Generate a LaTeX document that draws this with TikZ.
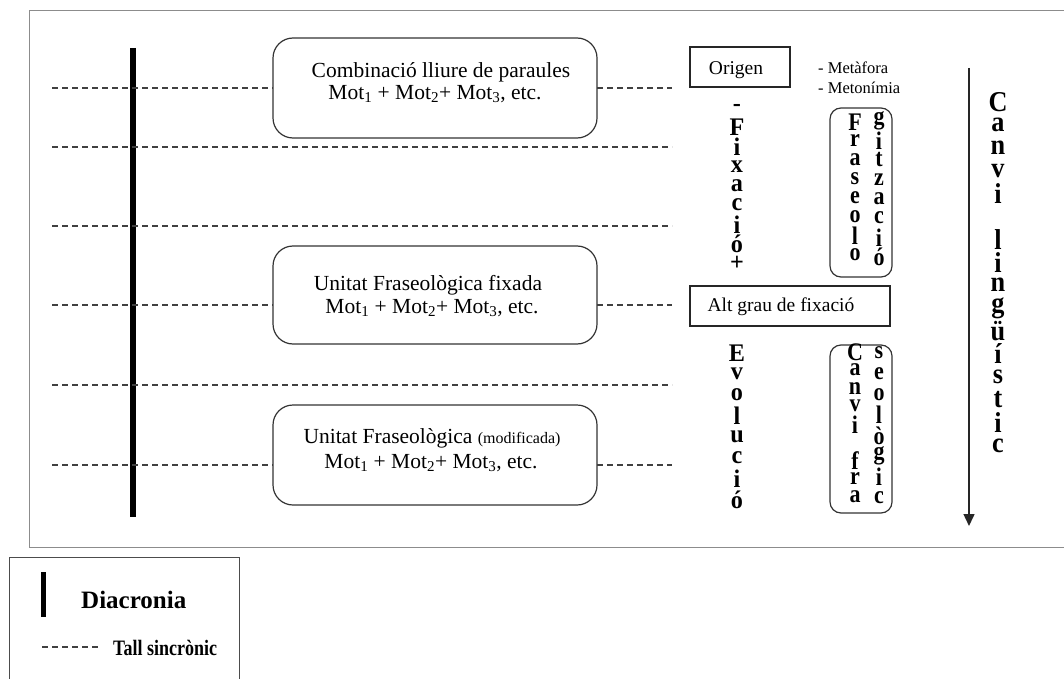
\documentclass[tikz,border=0pt]{standalone}
\usepackage{graphicx}
\usepackage{fontspec}
\setmainfont{Liberation Serif}
\usetikzlibrary{arrows.meta}
\newcommand\vertcol[6]{%
  \foreach \ch [count=\i] in {#6} {%
    \pgfmathsetmacro\yy{#3+(\i-1)*#4}%
    \node[vletter] (#1\i) at (#2,\yy) {\scalebox{#5}[1.15]{\ch}};%
  }}
\begin{document}
\begin{tikzpicture}[x=1pt,y=-1pt,
  dashline/.style={draw=black!75, line width=1.3pt, dash pattern=on 6pt off 4pt},
  roundbox/.style={draw=black!80, line width=1.2pt, rounded corners=20pt, rectangle, inner sep=0pt},
  narrowbox/.style={draw=black!80, line width=1.2pt, rounded corners=11pt, rectangle, inner sep=0pt, minimum width=62pt},
  plainbox/.style={draw=black!85, line width=1.2pt, rectangle, inner sep=0pt},
  boxtext/.style={font=\fontsize{21.5}{25}\selectfont, inner sep=0pt},
  sidetext/.style={font=\fontsize{19.5}{22}\selectfont, inner sep=0pt},
  smalltext/.style={font=\fontsize{16.5}{19}\selectfont, inner sep=0pt, anchor=west},
  vletter/.style={font=\bfseries\fontsize{22}{22}\selectfont, inner sep=0pt},
  bigletter/.style={font=\bfseries\fontsize{25}{25}\selectfont, inner sep=0pt},
  legtext/.style={font=\bfseries\fontsize{20}{20}\selectfont, inner sep=0pt, anchor=west}
]
\useasboundingbox (0,0) rectangle (1064,679);

% outer frame
\draw[draw=black!45, line width=1pt] (1070,11) -- (29,11) -- (29,547) -- (1070,547);

% diachrony bar
\coordinate (diaTop) at (133,48);
\coordinate (diaBot) at (133,517);
\draw[line width=6.5pt] (diaTop) -- (diaBot);

% boxes
\node[roundbox, minimum width=324pt, minimum height=100pt] (b1) at (435,88) {};
\node[roundbox, minimum width=324pt, minimum height=98pt] (b2) at (435,295) {};
\node[roundbox, minimum width=324pt, minimum height=100pt] (b3) at (435,455) {};

\node[boxtext] (b1t) at (441,72) {Combinació lliure de paraules};
\node[boxtext] (b1m) at (435,94) {Mot\textsubscript{1} + Mot\textsubscript{2}+ Mot\textsubscript{3}, etc.};
\node[boxtext] (b2t) at (428,285) {Unitat Fraseològica fixada};
\node[boxtext] (b2m) at (432,308) {Mot\textsubscript{1} + Mot\textsubscript{2}+ Mot\textsubscript{3}, etc.};
\node[boxtext] (b3t) at (432,438) {Unitat Fraseològica {\fontsize{16}{16}\selectfont(modificada)}};
\node[boxtext] (b3m) at (431,463) {Mot\textsubscript{1} + Mot\textsubscript{2}+ Mot\textsubscript{3}, etc.};

% synchronic cuts
\coordinate (l1a) at (52,88);  \coordinate (l1b) at (597,88); \coordinate (l1c) at (672,88);
\coordinate (l2a) at (52,147); \coordinate (l2b) at (672,147);
\coordinate (l3a) at (52,226); \coordinate (l3b) at (672,226);
\coordinate (l4a) at (52,305); \coordinate (l4b) at (597,305); \coordinate (l4c) at (672,305);
\coordinate (l5a) at (52,385); \coordinate (l5b) at (672,385);
\coordinate (l6a) at (52,465); \coordinate (l6b) at (597,465); \coordinate (l6c) at (672,465);
\draw[dashline] (l1a) -- (b1.west |- l1a);
\draw[dashline] (l1b) -- (l1c);
\draw[dashline] (l2a) -- (l2b);
\draw[dashline] (l3a) -- (l3b);
\draw[dashline] (l4a) -- (b2.west |- l4a);
\draw[dashline] (l4b) -- (l4c);
\draw[dashline] (l5a) -- (l5b);
\draw[dashline] (l6a) -- (b3.west |- l6a);
\draw[dashline] (l6b) -- (l6c);

% right side boxes
\node[plainbox, minimum width=100pt, minimum height=40pt] (orig) at (740,67) {};
\node[sidetext] (origt) at (736,70) {Origen};
\node[plainbox, minimum width=200pt, minimum height=40pt] (alt) at (790,306) {};
\node[sidetext] (altt) at (781,307) {Alt grau de fixació};

\node[smalltext] (meta) at (818,68) {- Metàfora};
\node[smalltext] (meto) at (818,88) {- Metonímia};

% vertical words
\vertcol{fx}{737}{108}{19.4}{1.1}{-,F,i,x,a,c,i,ó,+}
\vertcol{ev}{737}{353}{21}{1.1}{E,v,o,l,u,c,i,ó}

\node[narrowbox, minimum height=169pt] (frbox) at (861,192.5) {};
\vertcol{fra}{855}{122}{19}{1.0}{F,r,a,s,e,o,l,o}
\vertcol{giz}{879}{121}{19.4}{1.0}{g,i,t,z,a,c,i,ó}

\node[narrowbox, minimum height=168pt] (cfbox) at (861,429) {};
\vertcol{cfa}{855}{352}{18.1}{1.0}{C,a,n,v,i,{},f,r,a}
\vertcol{cfb}{879}{353}{20.6}{1.0}{s,e,o,l,ò,g,i,c}

% language change arrow
\coordinate (arrTop) at (969,68);
\coordinate (arrBot) at (969,526);
\draw[line width=1.5pt, draw=black!85, -{Triangle[length=12pt,width=11pt]}] (arrTop) -- (arrBot);
\foreach \ch [count=\i] in {C,a,n,v,i,{},l,i,n,g,ü,í,s,t,i,c} {
  \pgfmathsetmacro\yy{102+(\i-1)*22.9}
  \node[bigletter] (cl\i) at (998,\yy) {\scalebox{1.05}[1.15]{\ch}};
}

% legend
\draw[draw=black!70, line width=1pt] (9,681) -- (9,557) -- (239,557) -- (239,681);
\coordinate (legBarTop) at (43,572);
\coordinate (legBarBot) at (43,617);
\draw[line width=5pt] (legBarTop) -- (legBarBot);
\node[legtext, font=\bfseries\fontsize{25}{25}\selectfont] (diac) at (81,600) {Diacronia};
\coordinate (legDashA) at (42,647);
\coordinate (legDashB) at (100,647);
\draw[dashline] (legDashA) -- (legDashB);
\node[legtext] (tall) at (113,648) {\scalebox{0.9}[1.1]{Tall sincrònic}};
\end{tikzpicture}
\end{document}
